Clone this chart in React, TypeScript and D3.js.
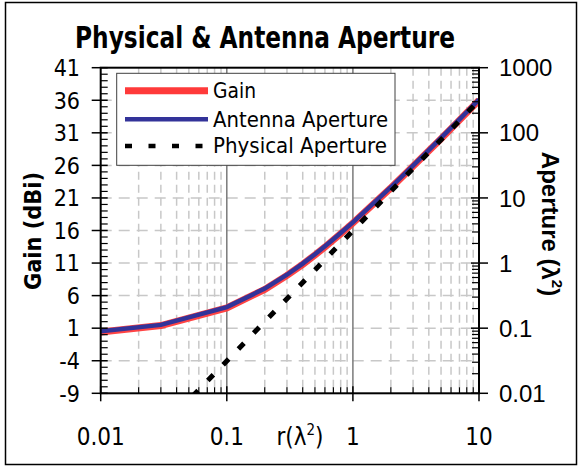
import React from "react";
import * as d3 from "d3";

// ---- data ----
const radius = [0.01, 0.03, 0.1, 0.2, 0.3, 0.4, 0.5, 0.6, 0.7, 0.8, 0.9, 1, 2, 3, 4, 5, 6, 7, 8, 9, 10];
const gainDbi = [0.4, 1.4, 4.1, 6.95, 9.1, 10.8, 12.25, 13.45, 14.55, 15.5, 16.35, 17.15, 22.55, 25.85, 28.25, 30.1, 31.65, 32.95, 34.1, 35.1, 36.0];
const antennaAperture = [0.0899, 0.1124, 0.211, 0.405, 0.662, 0.982, 1.365, 1.81, 2.32, 2.89, 3.53, 4.22, 14.6, 31.4, 54.3, 83.6, 119, 161, 209, 264, 324];
const physicalAperture = [0.000314, 0.00283, 0.0314, 0.126, 0.283, 0.503, 0.785, 1.13, 1.54, 2.01, 2.54, 3.14, 12.6, 28.3, 50.3, 78.5, 113, 154, 201, 254, 314];

const xTicks = [0.01, 0.1, 1, 10];
const xTickLabels = ["0.01", "0.1", "1", "10"];
const leftTicks = [41, 36, 31, 26, 21, 16, 11, 6, 1, -4, -9];
const rightTicks = [1000, 100, 10, 1, 0.1, 0.01];
const rightTickLabels = ["1000", "100", "10", "1", "0.1", "0.01"];
const seriesNames = ["Gain", "Antenna Aperture", "Physical Aperture"];

const L = 100.7, R = 479, T = 67.7, B = 393.3;
const FONT = "'DejaVu Sans Condensed', 'DejaVu Sans', sans-serif";
const ARIAL = "'Liberation Sans', Arial, sans-serif";

export default function App() {
  const x = d3.scaleLog().domain([0.01, 10]).range([L, R]);
  const yL = d3.scaleLinear().domain([-9, 41]).range([B, T]);
  const yR = d3.scaleLog().domain([0.01, 1000]).range([B, T]);

  const idx = radius.map((_, i) => i);
  const gainLine = d3.line<number>().x((i) => x(radius[i])).y((i) => yL(gainDbi[i]))(idx) || "";
  const antLine = d3.line<number>().x((i) => x(radius[i])).y((i) => yR(antennaAperture[i]))(idx) || "";
  const physLine = d3.line<number>().x((i) => x(radius[i])).y((i) => yR(physicalAperture[i]))(idx) || "";

  const xMinor: number[] = [];
  for (let e = -2; e < 1; e++) for (let m = 2; m <= 9; m++) xMinor.push(m * Math.pow(10, e));
  const rMinor: number[] = [];
  for (let e = -2; e < 3; e++) for (let m = 2; m <= 9; m++) rMinor.push(m * Math.pow(10, e));
  const lMinor = d3.range(-9, 42, 1).filter((v) => !leftTicks.includes(v));

  const legendY = [90.7, 119.3, 146];
  const legendLen = [43, 175, 174];

  return (
    <svg width={581} height={469} style={{ position: "absolute", left: 0, top: 0 }}>
      <rect x={0} y={0} width={581} height={469} fill="white" />
      <rect x={5.5} y={2.5} width={571} height={462} fill="white" stroke="#000" strokeWidth={1.5} />
      <defs>
        <clipPath id="plot">
          <rect x={L} y={T} width={R - L} height={B - T} />
        </clipPath>
      </defs>

      {/* title */}
      <text x={265} y={48} textAnchor="middle" fontFamily={FONT} fontWeight="bold" fontSize={30} textLength={380} lengthAdjust="spacingAndGlyphs">
        Physical &amp; Antenna Aperture
      </text>

      {/* grid */}
      {xMinor.map((v) => (
        <line key={"xm" + v} x1={x(v)} x2={x(v)} y1={T} y2={B} stroke="#c8c8c8" strokeWidth={1.5} strokeDasharray="8 5" />
      ))}
      {leftTicks.slice(1, -1).map((v) => (
        <line key={"hg" + v} x1={L} x2={R} y1={yL(v)} y2={yL(v)} stroke="#c8c8c8" strokeWidth={1.5} strokeDasharray="11 7" />
      ))}
      {[0.1, 1].map((v) => (
        <line key={"xg" + v} x1={x(v)} x2={x(v)} y1={T} y2={B} stroke="#7a7a7a" strokeWidth={1.5} />
      ))}

      {/* series */}
      <g clipPath="url(#plot)">
        <path d={gainLine} fill="none" stroke="#ff3a3a" strokeWidth={7} strokeOpacity={0.95} />
        <path d={antLine} fill="none" stroke="#333399" strokeWidth={4.5} />
        <path d={physLine} fill="none" stroke="#000" strokeWidth={5} strokeDasharray="8 14" />
      </g>

      {/* axes frame */}
      <rect x={L} y={T} width={R - L} height={B - T} fill="none" stroke="#000" strokeWidth={2} />

      {/* left axis ticks */}
      {leftTicks.map((v) => (
        <line key={"lt" + v} x1={L - 9} x2={L + 7} y1={yL(v)} y2={yL(v)} stroke="#000" strokeWidth={1.5} />
      ))}
      {lMinor.map((v) => (
        <line key={"lm" + v} x1={L} x2={L + 7} y1={yL(v)} y2={yL(v)} stroke="#000" strokeWidth={1.2} />
      ))}
      {leftTicks.map((v) => (
        <text key={"ll" + v} x={80} y={yL(v)} dy="0.36em" textAnchor="end" fontFamily={FONT} fontSize={23}>
          {String(v)}
        </text>
      ))}

      {/* right axis ticks */}
      {rightTicks.map((v) => (
        <line key={"rt" + v} x1={R - 8} x2={R + 9} y1={yR(v)} y2={yR(v)} stroke="#000" strokeWidth={1.5} />
      ))}
      {rMinor.map((v) => (
        <line key={"rm" + v} x1={R - 7} x2={R} y1={yR(v)} y2={yR(v)} stroke="#000" strokeWidth={1.2} />
      ))}
      {rightTicks.map((v, i) => (
        <text key={"rl" + v} x={499} y={yR(v)} dy="0.36em" textAnchor="start" fontFamily={ARIAL} fontSize={24}>
          {rightTickLabels[i]}
        </text>
      ))}

      {/* bottom axis ticks */}
      {xTicks.map((v) => (
        <line key={"bt" + v} x1={x(v)} x2={x(v)} y1={B - 7} y2={B + 8} stroke="#000" strokeWidth={1.5} />
      ))}
      {xMinor.map((v) => (
        <line key={"bm" + v} x1={x(v)} x2={x(v)} y1={B - 6} y2={B} stroke="#000" strokeWidth={1.2} />
      ))}
      {xTicks.map((v, i) => (
        <text key={"bl" + v} x={x(v)} y={445} textAnchor="middle" fontFamily={FONT} fontSize={24}>
          {xTickLabels[i]}
        </text>
      ))}
      <text x={300} y={445} textAnchor="middle" fontFamily={FONT} fontSize={24}>
        r(λ<tspan fontSize={15} dy={-10}>2</tspan><tspan dy={10}>)</tspan>
      </text>

      {/* axis titles */}
      <text transform="translate(41,231) rotate(-90)" textAnchor="middle" fontFamily={FONT} fontWeight="bold" fontSize={23} textLength={118} lengthAdjust="spacingAndGlyphs">
        Gain (dBi)
      </text>
      <text transform="translate(542,224) rotate(90)" textAnchor="middle" fontFamily={ARIAL} fontWeight="bold" fontSize={24}>
        Aperture (λ<tspan fontSize={15} dy={-10}>2</tspan><tspan dy={10}>)</tspan>
      </text>

      {/* legend */}
      <rect x={116.7} y={73.3} width={278.3} height={92} fill="white" stroke="#404040" strokeWidth={1} />
      <line x1={125} x2={208} y1={legendY[0]} y2={legendY[0]} stroke="#ff3a3a" strokeWidth={7} />
      <line x1={125} x2={208} y1={legendY[1]} y2={legendY[1]} stroke="#333399" strokeWidth={4.5} />
      <line x1={125} x2={208} y1={legendY[2]} y2={legendY[2]} stroke="#000" strokeWidth={4.5} strokeDasharray="7 16.5" />
      {seriesNames.map((s, i) => (
        <text key={s} x={213} y={legendY[i]} dy="0.36em" fontFamily={FONT} fontSize={20.5} textLength={legendLen[i]} lengthAdjust="spacingAndGlyphs">
          {s}
        </text>
      ))}
    </svg>
  );
}
